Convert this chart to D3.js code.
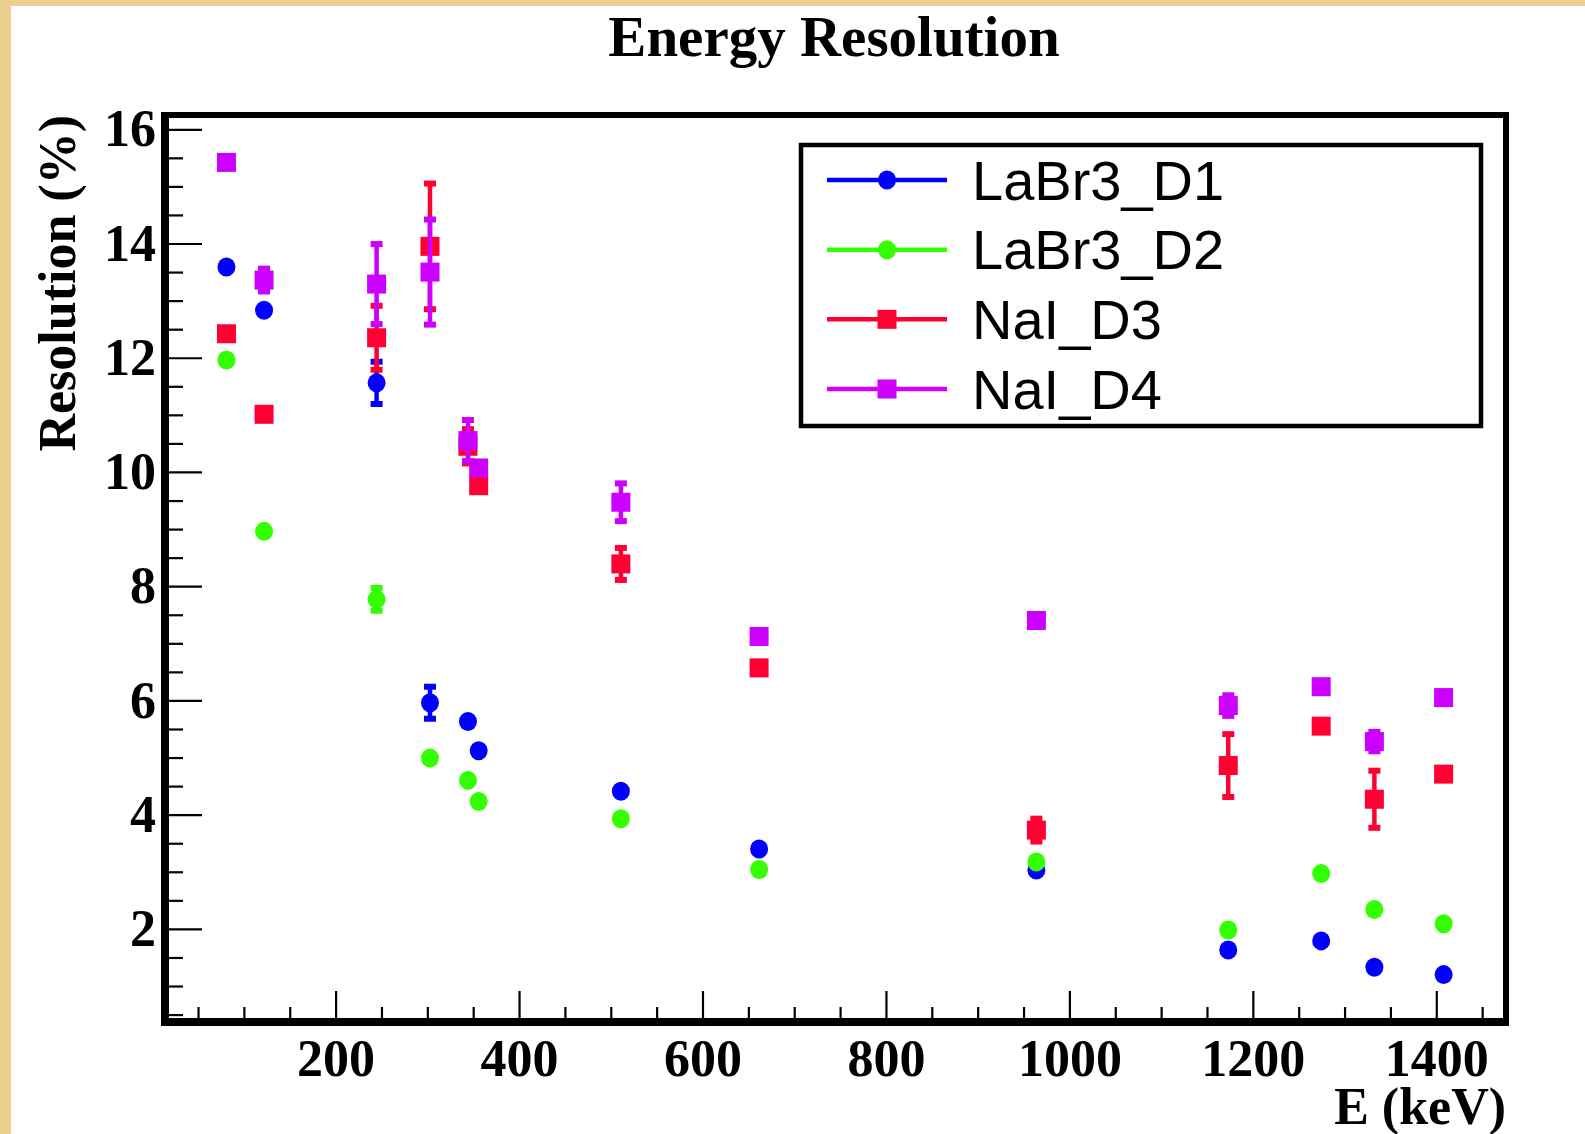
<!doctype html>
<html>
<head>
<script src="https://cdn.jsdelivr.net/npm/d3@7/dist/d3.min.js"></script>
<style>
  body { margin: 0; background: #fff; }
  svg { display: block; }
</style>
</head>
<body>
<svg width="1585" height="1134"></svg>
<script>
// gamma lines (keV)
const energies = [81, 122, 244.7, 302.9, 344.3, 356, 511, 661.7, 964, 1173.2, 1274.5, 1332.5, 1408];

// resolution (%) and errors for each detector
const labr3D1 = [13.59, 12.83, 11.56, 5.96, 5.63, 5.12, 4.41, 3.40, 3.03, 1.63, 1.79, 1.33, 1.20];
const labr3D1Err = [0, 0, 0.37, 0.28, 0, 0, 0, 0, 0, 0, 0, 0, 0];
const labr3D2 = [11.96, 8.96, 7.77, 4.99, 4.60, 4.23, 3.93, 3.04, 3.17, 1.98, 2.97, 2.34, 2.09];
const labr3D2Err = [0, 0, 0.2, 0, 0, 0, 0, 0, 0, 0, 0, 0, 0];
const naiD3 = [12.42, 11.01, 12.35, 13.95, 10.45, 9.76, 8.39, 6.57, 3.73, 4.86, 5.55, 4.27, 4.71];
const naiD3Err = [0, 0, 0.56, 1.1, 0.3, 0, 0.28, 0, 0.2, 0.55, 0, 0.5, 0];
const naiD4 = [15.42, 13.36, 13.29, 13.5, 10.55, 10.07, 9.47, 7.12, 7.40, 5.91, 6.24, 5.28, 6.05];
const naiD4Err = [0, 0.2, 0.7, 0.92, 0.36, 0, 0.33, 0, 0, 0.18, 0, 0.17, 0];

const seriesNames = ["LaBr3_D1", "LaBr3_D2", "NaI_D3", "NaI_D4"];
const seriesColors = ["#0000ff", "#33ff00", "#ff0033", "#cc00ff"];
const seriesMarkers = ["circle", "circle", "square", "square"];

const xTicks = [200, 400, 600, 800, 1000, 1200, 1400];
const yTicks = [2, 4, 6, 8, 10, 12, 14, 16];

const series = [
  { values: labr3D1, errs: labr3D1Err },
  { values: labr3D2, errs: labr3D2Err },
  { values: naiD3, errs: naiD3Err },
  { values: naiD4, errs: naiD4Err }
].map((s, i) => ({ ...s, name: seriesNames[i], color: seriesColors[i], marker: seriesMarkers[i] }));

var svg = d3.select("svg");

// beige paper border (top and left only)
svg.append("rect").attr("x", 0).attr("y", 0).attr("width", 1585).attr("height", 1134).attr("fill", "#e9d08f");
svg.append("rect").attr("x", 11).attr("y", 6).attr("width", 1574).attr("height", 1128).attr("fill", "#ffffff");

var frameL = 165, frameT = 115, frameR = 1506, frameB = 1022;

var x = d3.scaleLinear().domain([14, 1476]).range([frameL, frameR]);
var y = d3.scaleLinear().domain([0.37, 16.25]).range([frameB, frameT]);

var serif = "'Liberation Serif', 'Times New Roman', serif";
var sans = "'Liberation Sans', Arial, sans-serif";

// title
svg.append("text")
  .attr("x", 834).attr("y", 56)
  .attr("text-anchor", "middle")
  .style("font-family", serif).style("font-weight", "bold").style("font-size", "57px")
  .text("Energy Resolution");

// minor ticks
var xMinor = d3.range(50, 1476, 50).filter(v => v % 200 !== 0);
var yMinor = d3.range(0.5, 16.25, 0.5).filter(v => v % 2 !== 0);

svg.append("g")
  .attr("transform", "translate(0," + frameB + ")")
  .call(d3.axisBottom(x).tickValues(xMinor).tickSize(-15).tickFormat(""))
  .call(g => g.select(".domain").remove())
  .call(g => g.selectAll("line").attr("stroke-width", 2.2));

svg.append("g")
  .attr("transform", "translate(" + frameL + ",0)")
  .call(d3.axisLeft(y).tickValues(yMinor).tickSize(-18).tickFormat(""))
  .call(g => g.select(".domain").remove())
  .call(g => g.selectAll("line").attr("stroke-width", 2.2));

// major ticks with labels
svg.append("g")
  .attr("transform", "translate(0," + frameB + ")")
  .call(d3.axisBottom(x).tickValues(xTicks).tickSize(-31).tickPadding(17).tickFormat(d3.format("d")))
  .call(g => g.select(".domain").remove())
  .call(g => g.selectAll("line").attr("stroke-width", 2.2))
  .call(g => g.selectAll("text").attr("fill", "#000")
    .style("font-family", serif).style("font-weight", "bold").style("font-size", "52px"));

svg.append("g")
  .attr("transform", "translate(" + frameL + ",0)")
  .call(d3.axisLeft(y).tickValues(yTicks).tickSize(-37).tickPadding(9).tickFormat(d3.format("d")))
  .call(g => g.select(".domain").remove())
  .call(g => g.selectAll("line").attr("stroke-width", 2.2))
  .call(g => g.selectAll("text").attr("fill", "#000")
    .style("font-family", serif).style("font-weight", "bold").style("font-size", "52px"));

// frame
svg.append("rect")
  .attr("x", frameL).attr("y", frameT)
  .attr("width", frameR - frameL).attr("height", frameB - frameT)
  .attr("fill", "none").attr("stroke", "#000").attr("stroke-width", 6);
svg.append("path")
  .attr("d", "M" + frameL + "," + (frameT - 3) + "V" + frameB + "H" + (frameR + 3))
  .attr("fill", "none").attr("stroke", "#000").attr("stroke-width", 8);

// axis titles
svg.append("text")
  .attr("x", frameR).attr("y", 1124)
  .attr("text-anchor", "end")
  .style("font-family", serif).style("font-weight", "bold").style("font-size", "52px")
  .text("E (keV)");

svg.append("text")
  .attr("transform", "translate(75," + frameT + ")rotate(-90)")
  .attr("text-anchor", "end")
  .style("font-family", serif).style("font-weight", "bold").style("font-size", "52px")
  .text("Resolution (%)");

// markers helper
function drawMarker(g, kind, cx, cy, color) {
  if (kind === "circle") {
    g.append("ellipse").attr("cx", cx).attr("cy", cy).attr("rx", 9).attr("ry", 9.5).attr("fill", color);
  } else {
    g.append("rect").attr("x", cx - 9.5).attr("y", cy - 9.5).attr("width", 19).attr("height", 19).attr("fill", color);
  }
}

// data
series.forEach(s => {
  var g = svg.append("g");
  energies.forEach((e, i) => {
    var cx = x(e), cy = y(s.values[i]), err = s.errs[i];
    if (err > 0) {
      var y0 = y(s.values[i] - err), y1 = y(s.values[i] + err);
      g.append("line").attr("x1", cx).attr("x2", cx).attr("y1", y0).attr("y2", y1)
        .attr("stroke", s.color).attr("stroke-width", 4.5);
      [y0, y1].forEach(yy => {
        g.append("rect").attr("x", cx - 6).attr("y", yy - 3).attr("width", 12).attr("height", 6).attr("fill", s.color);
      });
    }
    drawMarker(g, s.marker, cx, cy, s.color);
  });
});

// legend
var legend = svg.append("g");
legend.append("rect")
  .attr("x", 801).attr("y", 145).attr("width", 680).attr("height", 281)
  .attr("fill", "#fff").attr("stroke", "#000").attr("stroke-width", 4.5);

var legendY = d3.scalePoint().domain(seriesNames).range([180, 389]);
series.forEach(s => {
  var ly = legendY(s.name);
  legend.append("line").attr("x1", 827).attr("x2", 947).attr("y1", ly).attr("y2", ly)
    .attr("stroke", s.color).attr("stroke-width", 4.5);
  drawMarker(legend, s.marker, 887, ly, s.color);
  legend.append("text")
    .attr("x", 972).attr("y", ly).attr("dy", "0.35em")
    .style("font-family", sans).style("font-size", "56px")
    .text(s.name);
});
</script>
</body>
</html>
